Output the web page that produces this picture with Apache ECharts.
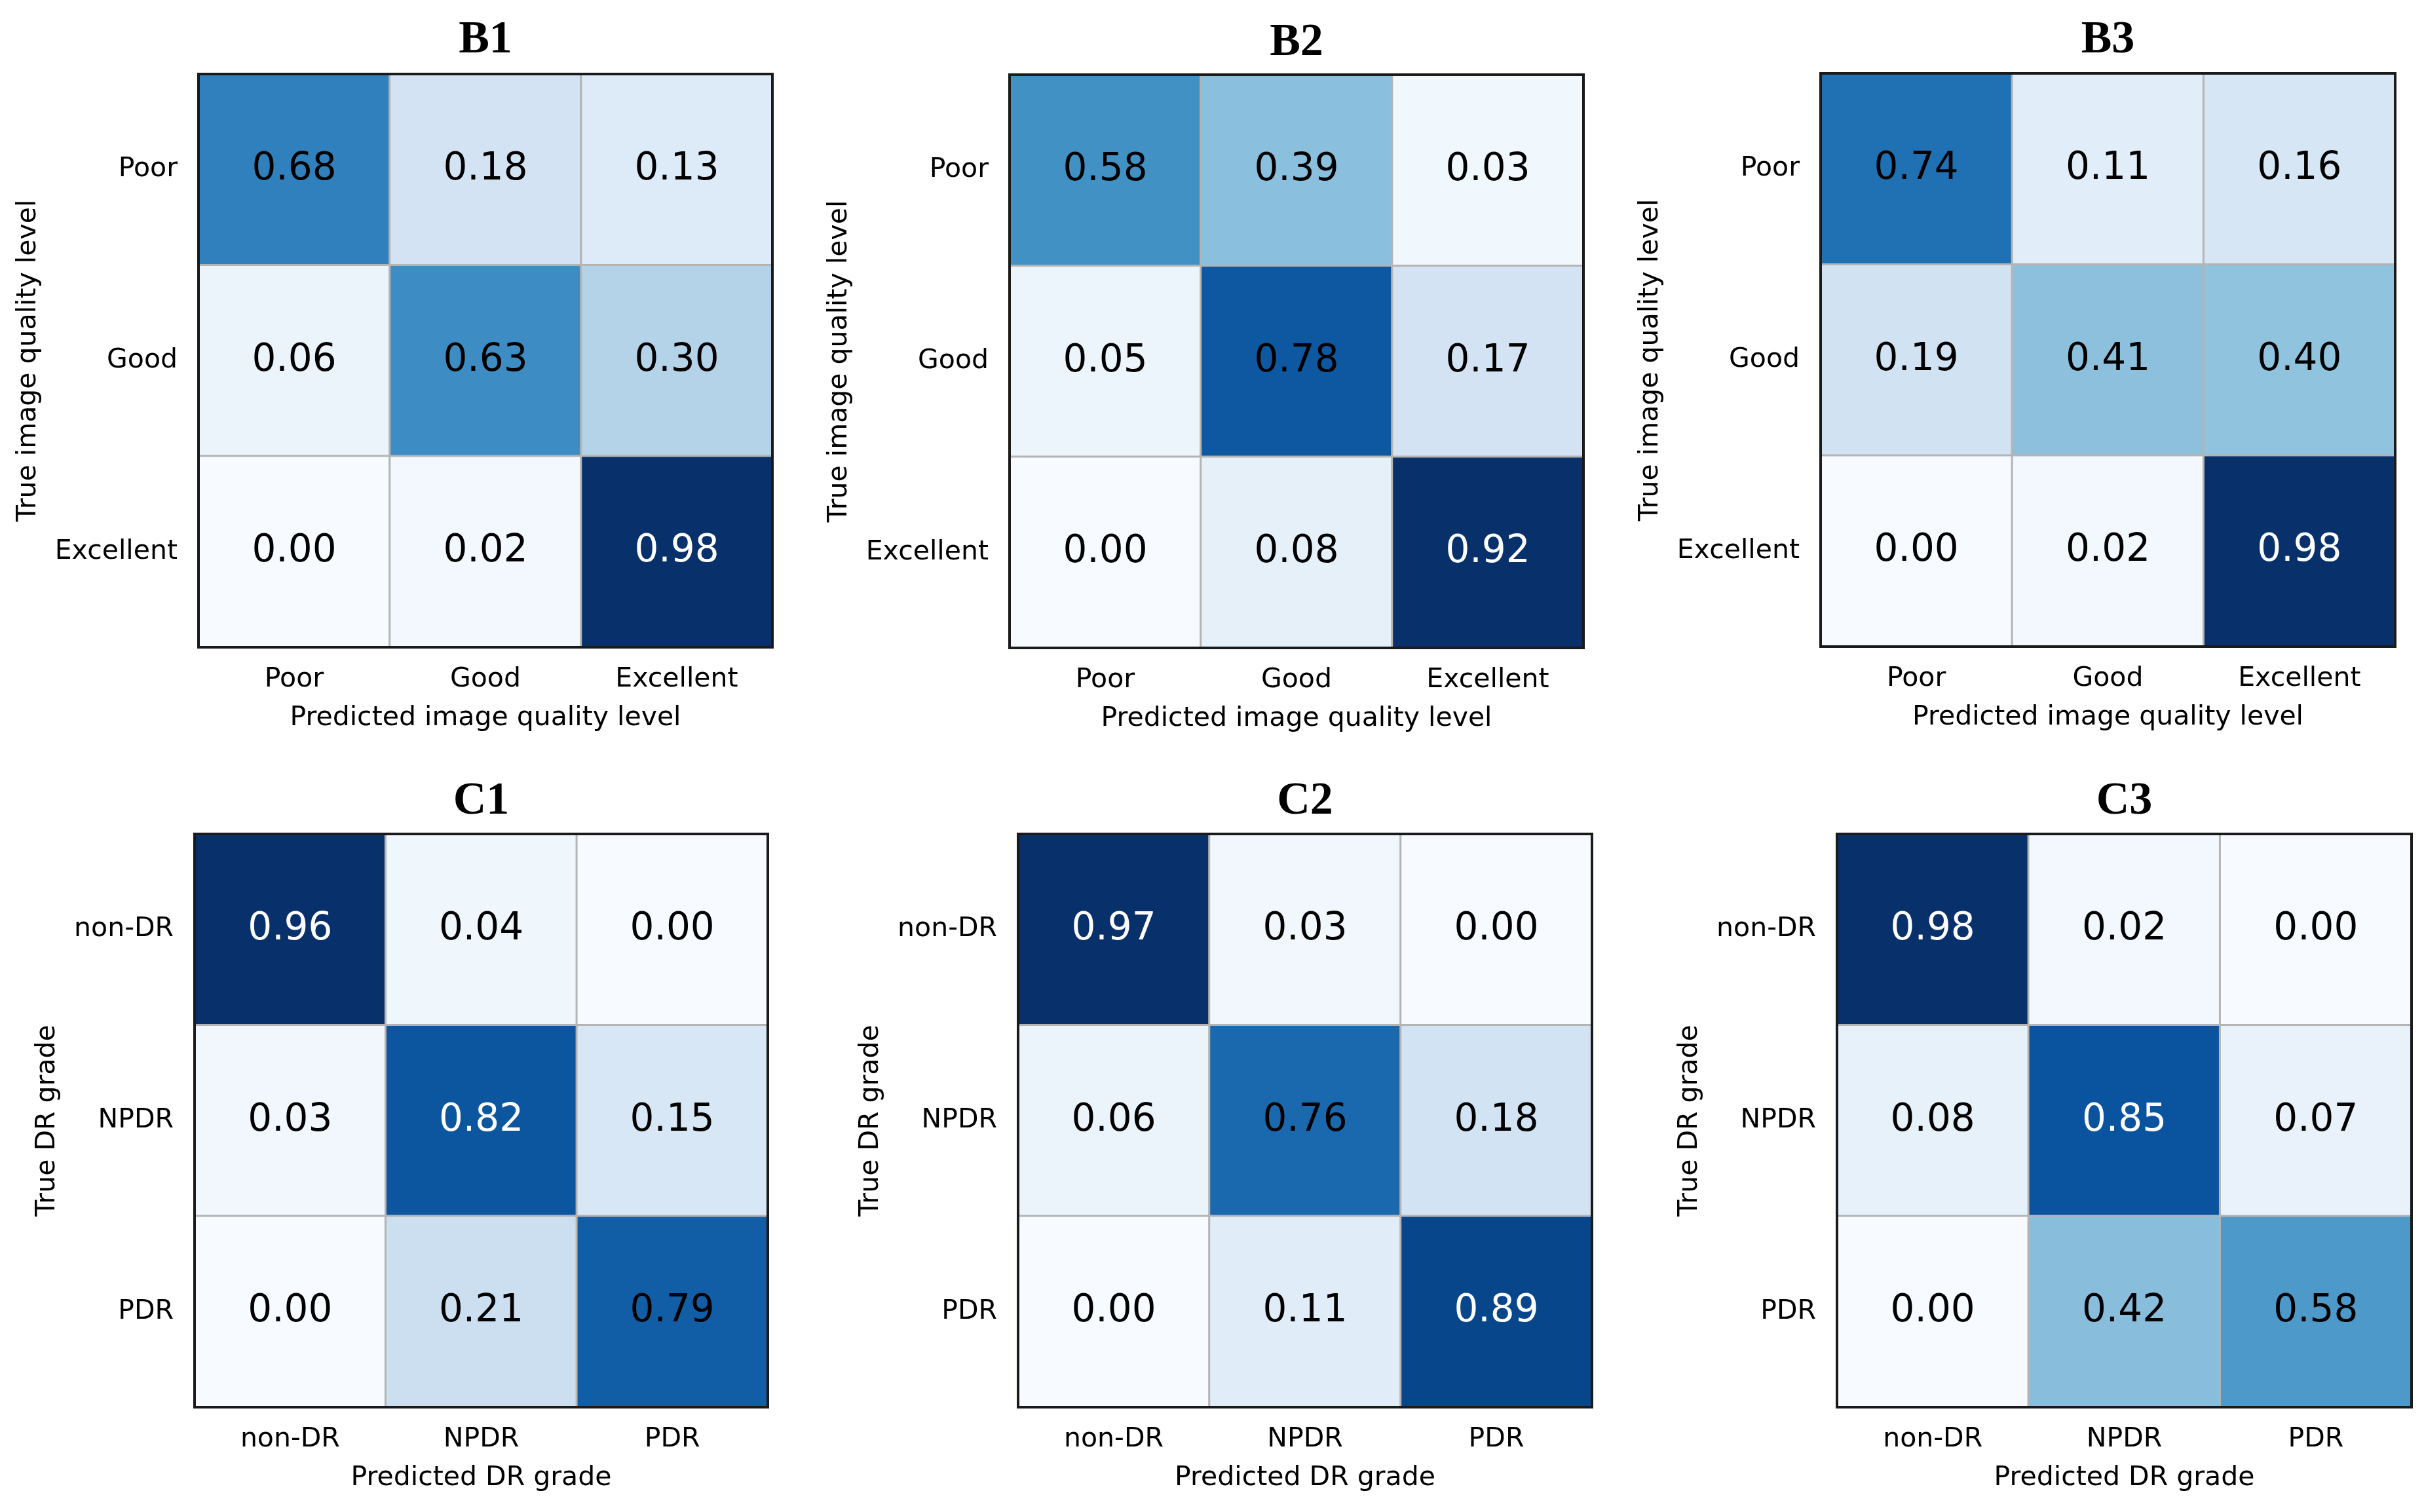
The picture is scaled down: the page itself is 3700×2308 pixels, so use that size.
<!DOCTYPE html>
<html>
<head>
<meta charset="utf-8">
<script src="https://cdn.jsdelivr.net/npm/echarts@6/dist/echarts.min.js"></script>
<style>
html,body{margin:0;padding:0;background:#ffffff;}
#chart{width:3700px;height:2308px;}
</style>
</head>
<body>
<div id="chart"></div>
<script>
// ---- data ----
const panelTitles = ['B1', 'B2', 'B3', 'C1', 'C2', 'C3'];
const qualityLevels = ['Poor', 'Good', 'Excellent'];
const drGrades = ['non-DR', 'NPDR', 'PDR'];
const qualityXName = 'Predicted image quality level';
const qualityYName = 'True image quality level';
const drXName = 'Predicted DR grade';
const drYName = 'True DR grade';

// rows = true class (top to bottom), columns = predicted class (left to right)
const B1 = [[0.68, 0.18, 0.13], [0.06, 0.63, 0.30], [0.00, 0.02, 0.98]];
const B2 = [[0.58, 0.39, 0.03], [0.05, 0.78, 0.17], [0.00, 0.08, 0.92]];
const B3 = [[0.74, 0.11, 0.16], [0.19, 0.41, 0.40], [0.00, 0.02, 0.98]];
const C1 = [[0.96, 0.04, 0.00], [0.03, 0.82, 0.15], [0.00, 0.21, 0.79]];
const C2 = [[0.97, 0.03, 0.00], [0.06, 0.76, 0.18], [0.00, 0.11, 0.89]];
const C3 = [[0.98, 0.02, 0.00], [0.08, 0.85, 0.07], [0.00, 0.42, 0.58]];

// ---- styling / layout ----
const blues = ['#f7fbff', '#deebf7', '#c6dbef', '#9ecae1', '#6baed6', '#4292c6', '#2171b5', '#08519c', '#08306b'];
const panels = [
  { m: B1, cats: qualityLevels, xn: qualityXName, yn: qualityYName, left: 303, top: 113, w: 876, h: 875, yGap: 239, titleTop: 27 },
  { m: B2, cats: qualityLevels, xn: qualityXName, yn: qualityYName, left: 1541, top: 114, w: 876, h: 875, yGap: 239, titleTop: 31 },
  { m: B3, cats: qualityLevels, xn: qualityXName, yn: qualityYName, left: 2779, top: 112, w: 877, h: 875, yGap: 239, titleTop: 27 },
  { m: C1, cats: drGrades, xn: drXName, yn: drYName, left: 297, top: 1273, w: 875, h: 875, yGap: 204, titleTop: 1189 },
  { m: C2, cats: drGrades, xn: drXName, yn: drYName, left: 1554, top: 1273, w: 876, h: 875, yGap: 204, titleTop: 1189 },
  { m: C3, cats: drGrades, xn: drXName, yn: drYName, left: 2804, top: 1273, w: 877, h: 875, yGap: 204, titleTop: 1189 }
];
const sansFont = 'DejaVu Sans';
const tickSize = 41;
const valueSize = 58;

const option = {
  backgroundColor: '#ffffff',
  animation: false,
  title: [], grid: [], xAxis: [], yAxis: [], visualMap: [], series: []
};

panels.forEach((p, i) => {
  option.title.push({
    text: panelTitles[i],
    left: p.left + p.w / 2,
    top: p.titleTop,
    textAlign: 'center',
    padding: 0,
    textStyle: { fontFamily: 'Liberation Serif', fontWeight: 'bold', fontSize: 70, color: '#000' }
  });
  option.grid.push({
    left: p.left, top: p.top, width: p.w, height: p.h,
    show: true, z: 10, backgroundColor: 'transparent',
    borderColor: '#1a1a1a', borderWidth: 4
  });
  option.xAxis.push({
    type: 'category', gridIndex: i, data: p.cats, position: 'bottom',
    name: p.xn, nameLocation: 'middle', nameGap: 88,
    nameTextStyle: { fontFamily: sansFont, fontSize: 41, color: '#000' },
    axisLine: { show: false }, axisTick: { show: false }, splitLine: { show: false },
    axisLabel: { fontFamily: sansFont, fontSize: tickSize, color: '#000', margin: 29 }
  });
  option.yAxis.push({
    type: 'category', gridIndex: i, data: p.cats, inverse: true,
    name: p.yn, nameLocation: 'middle', nameGap: p.yGap, nameRotate: 90,
    nameTextStyle: { fontFamily: sansFont, fontSize: 41, color: '#000' },
    axisLine: { show: false }, axisTick: { show: false }, splitLine: { show: false },
    axisLabel: { fontFamily: sansFont, fontSize: tickSize, color: '#000', margin: 32 }
  });
  const flat = [];
  p.m.forEach((row) => row.forEach((v) => flat.push(v)));
  option.visualMap.push({
    type: 'continuous', show: false, seriesIndex: i, dimension: 2,
    min: Math.min(...flat), max: Math.max(...flat),
    inRange: { color: blues }
  });
  const data = [];
  p.m.forEach((row, r) => row.forEach((v, c) => {
    data.push({ value: [c, r, v], label: { color: v > 0.8 ? '#ffffff' : '#000000' } });
  }));
  option.series.push({
    type: 'heatmap', xAxisIndex: i, yAxisIndex: i, data: data,
    itemStyle: { borderColor: '#b4b4b4', borderWidth: 3 },
    label: {
      show: true, fontFamily: sansFont, fontSize: valueSize,
      formatter: (d) => d.value[2].toFixed(2)
    },
    emphasis: { disabled: true }
  });
});

const chart = echarts.init(document.getElementById('chart'), null, { renderer: 'canvas' });
chart.setOption(option);
</script>
</body>
</html>
